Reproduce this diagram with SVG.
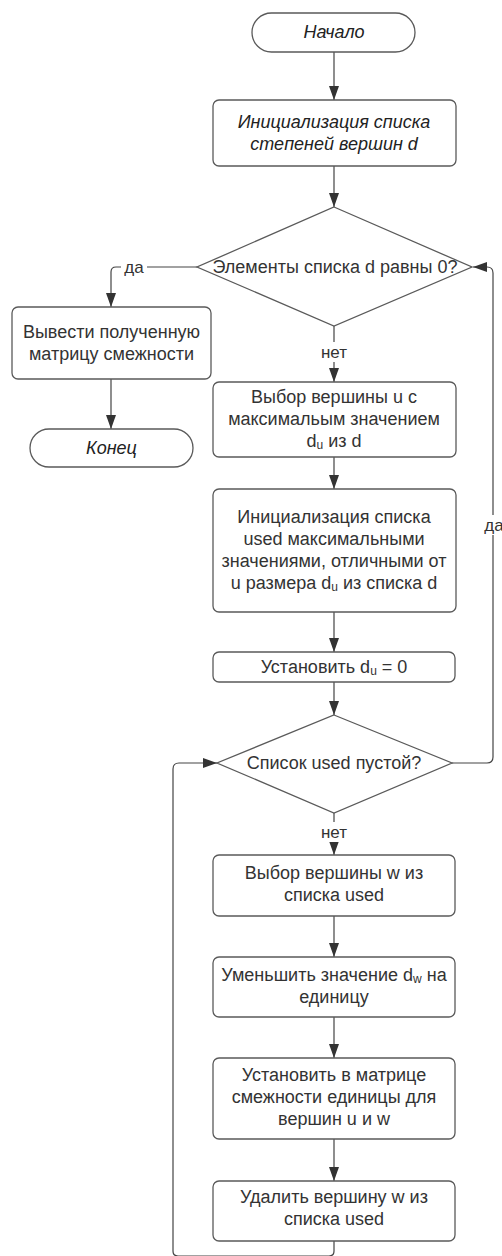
<svg xmlns="http://www.w3.org/2000/svg" width="502" height="1256" viewBox="0 0 502 1256">
  <style>
    .shape { fill: #ffffff; stroke: #5a5a5a; stroke-width: 1.3; }
    .line { fill: none; stroke: #444444; stroke-width: 1.2; }
    .txt { font-family: "Liberation Sans", Arial, sans-serif; font-size: 18px; fill: #333333; text-anchor: middle; dominant-baseline: central; }
    .it { font-style: italic; fill: #222222; }
    .lbl { font-family: "Liberation Sans", Arial, sans-serif; font-size: 17px; fill: #333333; text-anchor: middle; dominant-baseline: central; }
    .sub { font-size: 12px; }
  </style>
  <defs>
    <marker id="arrow" viewBox="0 0 14 10" refX="14" refY="5" markerWidth="14" markerHeight="10" markerUnits="userSpaceOnUse" orient="auto">
      <path d="M0,0 L14,5 L0,10 Z" fill="#333333"/>
    </marker>
  </defs>
  <rect width="502" height="1256" fill="#ffffff"/>

  <!-- connectors -->
  <g id="connectors">
    <line class="line" x1="334" y1="52" x2="334" y2="100" marker-end="url(#arrow)"/>
    <line class="line" x1="334" y1="166" x2="334" y2="207" marker-end="url(#arrow)"/>
    <!-- да: to output -->
    <path class="line" d="M197,267 L116,267 Q111,267 111,272 L111,307" marker-end="url(#arrow)"/>
    <rect x="121" y="258" width="26" height="18" fill="#ffffff"/>
    <text class="lbl" x="134" y="267">да</text>
    <line class="line" x1="111" y1="379" x2="111" y2="429" marker-end="url(#arrow)"/>
    <!-- нет: to selection -->
    <line class="line" x1="334" y1="326" x2="334" y2="382" marker-end="url(#arrow)"/>
    <rect x="316" y="342" width="36" height="20" fill="#ffffff"/>
    <text class="lbl" x="334" y="352">нет</text>
    <line class="line" x1="334" y1="457" x2="334" y2="489" marker-end="url(#arrow)"/>
    <line class="line" x1="334" y1="612" x2="334" y2="652" marker-end="url(#arrow)"/>
    <line class="line" x1="334" y1="682" x2="334" y2="715" marker-end="url(#arrow)"/>
    <!-- да: back to first decision -->
    <path class="line" d="M452,763 L487,763 Q493,763 493,757 L493,273 Q493,267 487,267 L473,267" marker-end="url(#arrow)"/>
    <rect x="481" y="515" width="24" height="20" fill="#ffffff"/>
    <text class="lbl" x="494" y="525">да</text>
    <!-- нет: to pick w -->
    <line class="line" x1="334" y1="813" x2="334" y2="855" marker-end="url(#arrow)"/>
    <rect x="316" y="822" width="36" height="20" fill="#ffffff"/>
    <text class="lbl" x="334" y="832">нет</text>
    <line class="line" x1="334" y1="916" x2="334" y2="957" marker-end="url(#arrow)"/>
    <line class="line" x1="334" y1="1017" x2="334" y2="1058" marker-end="url(#arrow)"/>
    <line class="line" x1="334" y1="1139" x2="334" y2="1181" marker-end="url(#arrow)"/>
    <!-- loop back -->
    <path class="line" d="M334,1241 L334,1251 Q334,1256 329,1256 L178,1256 Q173,1256 173,1251 L173,769 Q173,763 179,763 L217,763" marker-end="url(#arrow)"/>
  </g>

  <g id="start">
    <rect class="shape" x="252" y="13" width="163" height="39" rx="19.5"/>
    <text class="txt it" x="334" y="32">Начало</text>
  </g>

  <g id="init-d">
    <rect class="shape" x="213" y="100" width="243" height="66" rx="6"/>
    <text class="txt it" x="334" y="122">Инициализация списка</text>
    <text class="txt it" x="334" y="144">степеней вершин d</text>
  </g>

  <g id="check-zero">
    <polygon class="shape" points="334,207 472,267 334,326 197,267"/>
    <text class="txt" x="335" y="267">Элементы списка d равны 0?</text>
  </g>

  <g id="output">
    <rect class="shape" x="12" y="307" width="199" height="72" rx="6"/>
    <text class="txt" x="111.5" y="332">Вывести полученную</text>
    <text class="txt" x="111.5" y="354">матрицу смежности</text>
  </g>

  <g id="end">
    <rect class="shape" x="30" y="429" width="163" height="38" rx="19"/>
    <text class="txt it" x="111.5" y="448">Конец</text>
  </g>

  <g id="pick-u">
    <rect class="shape" x="213" y="382" width="243" height="75" rx="6"/>
    <text class="txt" x="334" y="397">Выбор вершины u с</text>
    <text class="txt" x="334" y="419">максимальым значением</text>
    <text class="txt" x="334" y="441">d<tspan class="sub" dy="4">u</tspan><tspan dy="-4"> из d</tspan></text>
  </g>

  <g id="init-used">
    <rect class="shape" x="213" y="489" width="243" height="123" rx="6"/>
    <text class="txt" x="334" y="517">Инициализация списка</text>
    <text class="txt" x="334" y="539">used максимальными</text>
    <text class="txt" x="334" y="561">значениями, отличными от</text>
    <text class="txt" x="334" y="583">u размера d<tspan class="sub" dy="4">u</tspan><tspan dy="-4"> из списка d</tspan></text>
  </g>

  <g id="set-du">
    <rect class="shape" x="213" y="652" width="242" height="30" rx="6"/>
    <text class="txt" x="334" y="667">Установить d<tspan class="sub" dy="4">u</tspan><tspan dy="-4"> = 0</tspan></text>
  </g>

  <g id="check-used">
    <polygon class="shape" points="334,715 452,763 334,813 217,763"/>
    <text class="txt" x="334" y="763">Список used пустой?</text>
  </g>

  <g id="pick-w">
    <rect class="shape" x="213" y="855" width="242" height="61" rx="6"/>
    <text class="txt" x="334" y="873">Выбор вершины w из</text>
    <text class="txt" x="334" y="895">списка used</text>
  </g>

  <g id="decrement">
    <rect class="shape" x="213" y="957" width="242" height="60" rx="6"/>
    <text class="txt" x="334" y="975">Уменьшить значение d<tspan class="sub" dy="4">w</tspan><tspan dy="-4"> на</tspan></text>
    <text class="txt" x="334" y="997">единицу</text>
  </g>

  <g id="set-matrix">
    <rect class="shape" x="213" y="1058" width="242" height="81" rx="6"/>
    <text class="txt" x="334" y="1075">Установить в матрице</text>
    <text class="txt" x="334" y="1097">смежности единицы для</text>
    <text class="txt" x="334" y="1119">вершин u и w</text>
  </g>

  <g id="remove-w">
    <rect class="shape" x="213" y="1181" width="242" height="60" rx="6"/>
    <text class="txt" x="334" y="1197">Удалить вершину w из</text>
    <text class="txt" x="334" y="1219">списка used</text>
  </g>
</svg>
